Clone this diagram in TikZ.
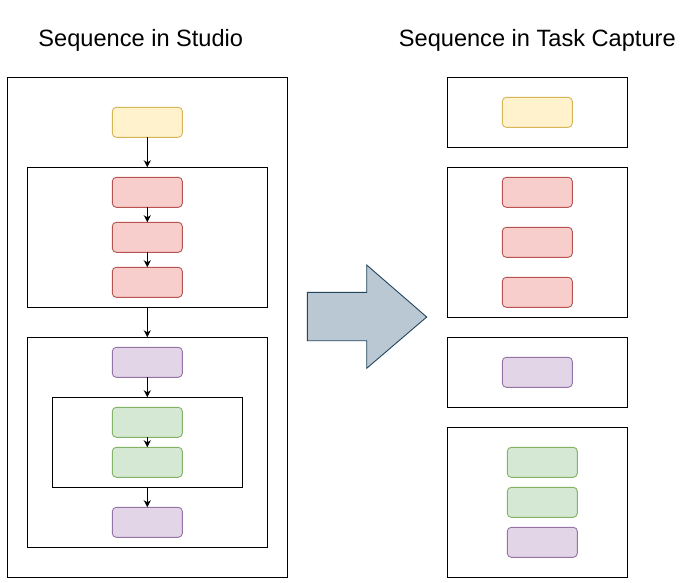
\documentclass[tikz,border=0pt]{standalone}
\usepackage{fontspec}
\setmainfont{Liberation Sans}
\usetikzlibrary{arrows.meta}
\definecolor{yelF}{HTML}{FFF2CC}\definecolor{yelD}{HTML}{D6B656}
\definecolor{redF}{HTML}{F8CECC}\definecolor{redD}{HTML}{B85450}
\definecolor{purF}{HTML}{E1D5E7}\definecolor{purD}{HTML}{9673A6}
\definecolor{grnF}{HTML}{D5E8D4}\definecolor{grnD}{HTML}{82B366}
\definecolor{arrF}{HTML}{BAC8D3}\definecolor{arrD}{HTML}{23445D}
\begin{document}
\begin{tikzpicture}[x=1pt,y=-1pt,
  grp/.style={draw=black,line width=1pt,inner sep=0pt,outer sep=0pt},
  step box/.style={rounded corners=4pt,line width=0.9pt,inner sep=0pt,outer sep=0pt,minimum width=70pt,minimum height=30pt},
  yel/.style={step box,draw=yelD,fill=yelF},
  red/.style={step box,draw=redD,fill=redF},
  pur/.style={step box,draw=purD,fill=purF},
  grn/.style={step box,draw=grnD,fill=grnF},
  arr/.style={line width=0.9pt,-{Stealth[length=7pt,width=7pt,inset=2pt]}},
  title/.style={anchor=base,inner sep=0pt,font=\fontsize{23.6}{28}\selectfont}]
\fill[white] (0,0) rectangle (689,582);
\useasboundingbox (0,0) rectangle (689,582);
% titles
\node[title] (t1) at (140.8,46) {Sequence in Studio};
\node[title] (t2) at (537.3,46) {Sequence in Task Capture};
% left side
\node[grp,minimum width=280pt,minimum height=500pt] (L0) at (147.3,327.3) {};
\node[yel] (s1) at (147.3,122.3) {};
\node[grp,minimum width=240pt,minimum height=140pt] (gR) at (147.3,237.3) {};
\node[red] (r1) at (147.3,192.3) {};
\node[red] (r2) at (147.3,237.3) {};
\node[red] (r3) at (147.3,282.3) {};
\node[grp,minimum width=240pt,minimum height=210pt] (gP) at (147.3,442.3) {};
\node[pur] (p1) at (147.3,362.3) {};
\node[grp,minimum width=190pt,minimum height=90pt] (gG) at (147.3,442.3) {};
\node[grn] (g1) at (147.3,422.3) {};
\node[grn] (g2) at (147.3,462.3) {};
\node[pur] (p2) at (147.3,522.3) {};
\draw[arr] (s1.south) -- (gR.north);
\draw[arr] (r1.south) -- (r2.north);
\draw[arr] (r2.south) -- (r3.north);
\draw[arr] (gR.south) -- (gP.north);
\draw[arr] (p1.south) -- (gG.north);
\draw[arr] (g1.south) -- (g2.north);
\draw[arr] (gG.south) -- (p2.north);
% big arrow
\draw[draw=arrD,fill=arrF,line width=0.9pt,line join=miter]
  (307.3,292.3) -- (366.7,292.3) -- (366.7,265) -- (426.7,317) -- (366.7,368.3) -- (366.7,340.7) -- (307.3,340.7) -- cycle;
% right side
\node[grp,minimum width=180pt,minimum height=70pt] (B1) at (537.3,112.3) {};
\node[yel] (ry) at (537.3,112.3) {};
\node[grp,minimum width=180pt,minimum height=150pt] (B2) at (537.3,242.3) {};
\node[red] (rr1) at (537.3,192.3) {};
\node[red] (rr2) at (537.3,242.3) {};
\node[red] (rr3) at (537.3,292.3) {};
\node[grp,minimum width=180pt,minimum height=70pt] (B3) at (537.3,372.3) {};
\node[pur] (rp1) at (537.3,372.3) {};
\node[grp,minimum width=180pt,minimum height=150pt] (B4) at (537.3,502.3) {};
\node[grn] (rg1) at (542.3,462.3) {};
\node[grn] (rg2) at (542.3,502.3) {};
\node[pur] (rp2) at (542.3,542.3) {};
\end{tikzpicture}
\end{document}
